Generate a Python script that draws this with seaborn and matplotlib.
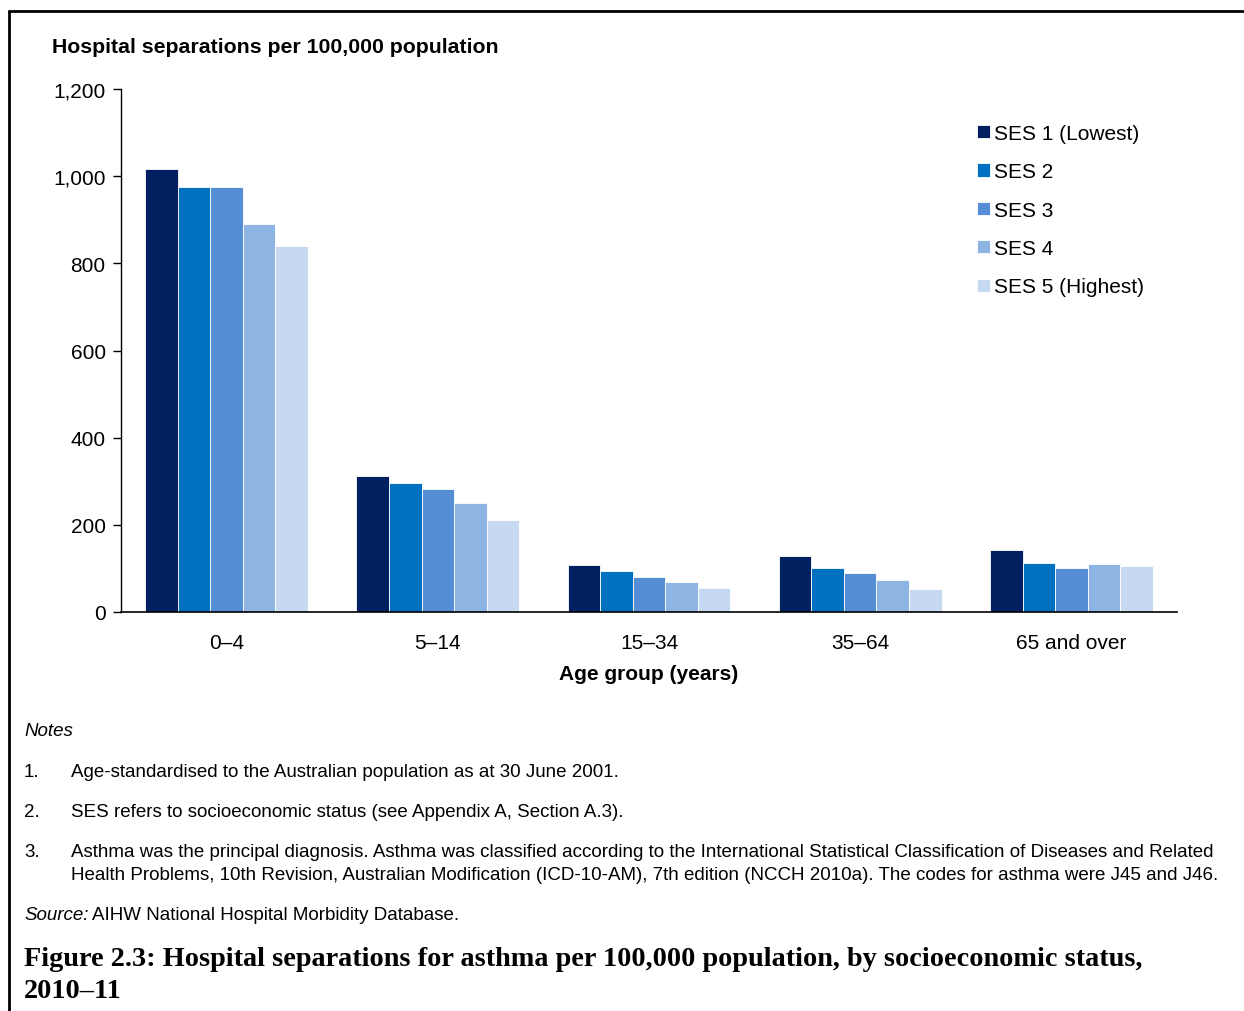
import pandas as pd
import seaborn as sns
import matplotlib.pyplot as plt
from matplotlib.lines import Line2D

# values
age_groups = ['0–4', '5–14', '15–34', '35–64', '65 and over']
ses_levels = ['SES 1 (Lowest)', 'SES 2', 'SES 3', 'SES 4', 'SES 5 (Highest)']
ses1 = [1017, 311, 107, 129, 142]
ses2 = [975, 297, 93, 100, 113]
ses3 = [976, 283, 80, 90, 102]
ses4 = [891, 251, 69, 73, 109]
ses5 = [839, 210, 54, 53, 105]
ses_colors = ['#002060', '#0070C0', '#558ED5', '#8EB4E3', '#C6D9F1']

y_ticks = [0, 200, 400, 600, 800, 1000, 1200]
y_tick_labels = ['0', '200', '400', '600', '800', '1,000', '1,200']

notes = [
    ('1.', 'Age-standardised to the Australian population as at 30 June 2001.'),
    ('2.', 'SES refers to socioeconomic status (see Appendix A, Section A.3).'),
    ('3.', 'Asthma was the principal diagnosis. Asthma was classified according to the International '
           'Statistical Classification of Diseases and Related\nHealth Problems, 10th Revision, Australian '
           'Modification (ICD-10-AM), 7th edition (NCCH 2010a). The codes for asthma were J45 and J46.'),
]


def main():
    rows = []
    for ses, vals in zip(ses_levels, [ses1, ses2, ses3, ses4, ses5]):
        for age, v in zip(age_groups, vals):
            rows.append({'age': age, 'ses': ses, 'rate': v})
    df = pd.DataFrame(rows)

    sns.set_style('white')
    plt.rcParams['font.family'] = ['Liberation Sans', 'DejaVu Sans']
    plt.rcParams['text.color'] = 'black'
    plt.rcParams['axes.labelcolor'] = 'black'
    plt.rcParams['xtick.color'] = 'black'
    plt.rcParams['ytick.color'] = 'black'

    fig = plt.figure(figsize=(12.44, 10.12), dpi=100)
    ax = fig.add_axes([121 / 1244, 1 - 613 / 1012, 1056 / 1244, 523 / 1012])

    sns.barplot(data=df, x='age', y='rate', hue='ses', order=age_groups, hue_order=ses_levels,
                palette=ses_colors, width=0.77, edgecolor='white', linewidth=0.6,
                saturation=1, ax=ax)

    ax.set_ylim(0, 1200)
    ax.set_xlim(-0.5, 4.5)
    ax.set_yticks(y_ticks)
    ax.set_yticklabels(y_tick_labels, fontsize=15)
    ax.tick_params(axis='y', direction='out', length=6, width=1, color='black', pad=5, left=True)
    ax.tick_params(axis='x', length=0, labelsize=15, pad=15)
    for s in ['top', 'right']:
        ax.spines[s].set_visible(False)
    ax.spines['left'].set_color('black')
    ax.spines['bottom'].set_color('black')
    ax.spines['left'].set_linewidth(1)
    ax.spines['bottom'].set_linewidth(1.2)
    ax.set_ylabel('')
    ax.set_xlabel('Age group (years)', fontsize=15, fontweight='bold', labelpad=9)

    ax.legend(loc='upper left', bbox_to_anchor=(0.793, 0.969), frameon=False, fontsize=15,
              handlelength=0.6, handleheight=0.6, handletextpad=0.2, labelspacing=0.93)

    fig.text(52 / 1244, 1 - 48 / 1012, 'Hospital separations per 100,000 population',
             fontsize=15.3, fontweight='bold', va='center', ha='left')

    # notes block
    fs = 13.5
    fig.text(24 / 1244, 1 - 731 / 1012, 'Notes', fontsize=fs, style='italic', va='center')
    note_y = [771, 811, 851]
    for (num, txt), yy in zip(notes, note_y):
        fig.text(24 / 1244, 1 - (yy - 7) / 1012, num, fontsize=fs, va='top')
        fig.text(71 / 1244, 1 - (yy - 7) / 1012, txt, fontsize=fs, va='top', linespacing=1.48)
    fig.text(24 / 1244, 1 - 916 / 1012, 'Source:', fontsize=fs, style='italic', va='center')
    fig.text(92 / 1244, 1 - 916 / 1012, 'AIHW National Hospital Morbidity Database.', fontsize=fs,
             va='center')

    fig.text(24 / 1244, 1 - 947 / 1012,
             'Figure 2.3: Hospital separations for asthma per 100,000 population, by socioeconomic status,\n2010–11',
             fontsize=20.3, fontweight='bold', family=['Liberation Serif'], va='top', linespacing=1.38)

    # frame lines at top and left
    fig.add_artist(Line2D([9 / 1244, 1], [1 - 12 / 1012, 1 - 12 / 1012], color='black', lw=2,
                          transform=fig.transFigure))
    fig.add_artist(Line2D([9 / 1244, 9 / 1244], [0, 1 - 12 / 1012], color='black', lw=2,
                          transform=fig.transFigure))

    fig.savefig('out.png', dpi=100)


if __name__ == '__main__':
    main()
